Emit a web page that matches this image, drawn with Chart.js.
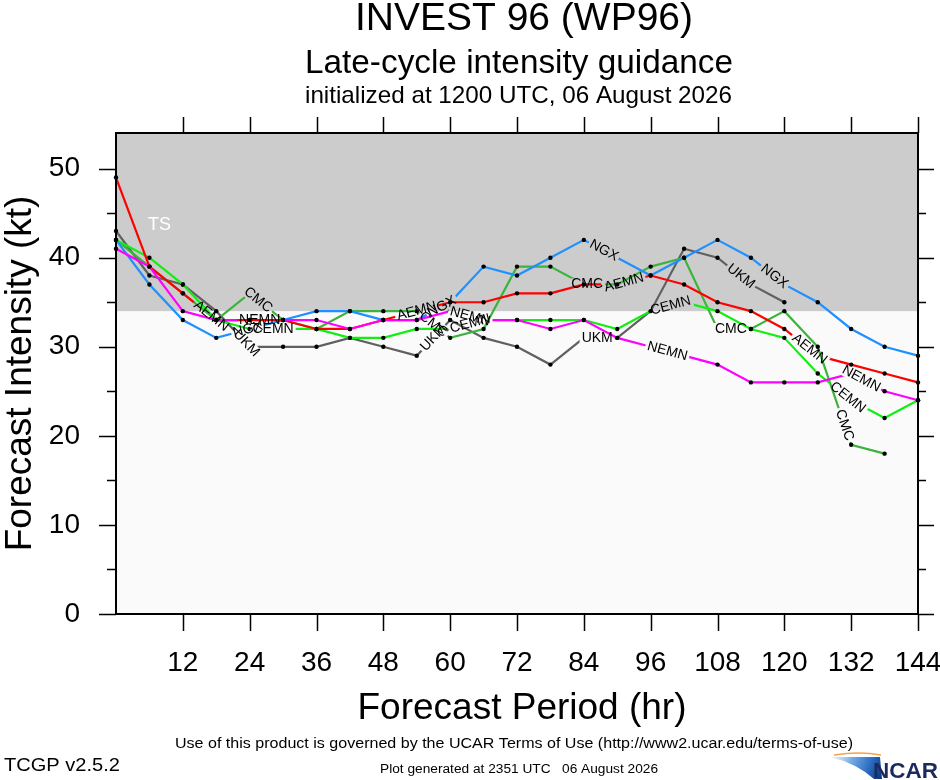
<!DOCTYPE html>
<html>
<head>
<meta charset="utf-8">
<script src="https://cdn.jsdelivr.net/npm/chart.js@4.4.1/dist/chart.umd.min.js"></script>
<style>
html,body{margin:0;padding:0;background:#ffffff;}
canvas{display:block;}
</style>
</head>
<body>
<canvas id="c" width="940" height="780"></canvas>
<script>
// ---------------- DATA ----------------
const hours = [0,6,12,18,24,30,36,42,48,54,60,66,72,78,84,90,96,102,108,114,120,126,132,138,144];
const AEMN = [49,39,36,33,33,33,32,32,33,34,35,35,36,36,37,37,38,37,35,34,32,29,28,27,26];
const NGX  = [42,37,33,31,32,33,34,34,33,33,35,39,38,40,42,40,38,40,42,40,37,35,32,30,29];
const UKM  = [43,38,37,34,30,30,30,31,30,29,33,31,30,28,31,31,34,41,40,37,35];
const CMC  = [42,39,36,33,36,33,32,34,34,34,31,32,39,39,37,37,39,40,32,32,34,30,19,18];
const CEMN = [42,40,37,33,32,32,32,31,31,32,32,33,33,33,33,32,34,35,34,32,31,27,24,22,24];
const NEMN = [41,39,34,33,33,33,33,32,33,33,34,33,33,32,33,31,30,29,28,26,26,26,27,25,24];
const xTickValues = [12,24,36,48,60,72,84,96,108,120,132,144];
const yTickValues = [0,10,20,30,40,50];
const yMinorValues = [5,15,25,35,45];
const tsThreshold = 34;

// ---------------- STYLE ----------------
const FONT = "'Liberation Sans', Arial, Helvetica, sans-serif";
const series = [
  {name:'NEMN', values:NEMN, color:'#ff00ff', labels:[4.3,10.6,16.5,22.3]},
  {name:'AEMN', values:AEMN, color:'#ff0000', labels:[2.85,9.0,15.2,20.75]},
  {name:'NGX',  values:NGX,  color:'#1e90ff', labels:[3.95,9.75,14.6,19.7]},
  {name:'CEMN', values:CEMN, color:'#11ee11', labels:[4.7,10.6,16.6,21.9]},
  {name:'CMC',  values:CMC,  color:'#3cb43c', labels:[4.25,9.5,14.1,18.4,21.8]},
  {name:'UKM',  values:UKM,  color:'#606060', labels:[3.9,9.5,14.4,18.7]}
];
const LABEL_FONT = "14px 'Liberation Sans', Arial, Helvetica, sans-serif";

Chart.defaults.font.family = FONT;

function toXY(vals){ return vals.map((v,i)=>({x:hours[i], y:v})); }

function computeLabels(chart, idx){
  const meta = chart.getDatasetMeta(idx);
  const s = series[idx];
  const ctx = chart.ctx;
  ctx.save();
  ctx.font = LABEL_FONT;
  const out = [];
  s.labels.forEach(f=>{
    const i0 = Math.floor(f);
    const i1 = Math.min(i0+1, meta.data.length-1);
    const t = f - i0;
    const p0 = meta.data[i0], p1 = meta.data[i1];
    if(!p0 || !p1) return;
    const x = p0.x + t*(p1.x-p0.x);
    const y = p0.y + t*(p1.y-p0.y);
    const a = Math.atan2(p1.y-p0.y, p1.x-p0.x);
    const w = ctx.measureText(s.name).width;
    out.push({x,y,a,w,text:s.name});
  });
  ctx.restore();
  return out;
}

const bgPlugin = {
  id:'bg',
  beforeDatasetsDraw(chart){
    const {ctx, chartArea:a, scales:{y}} = chart;
    ctx.save();
    ctx.fillStyle = '#fafafa';
    ctx.fillRect(a.left, a.top, a.right-a.left, a.bottom-a.top);
    const yt = y.getPixelForValue(tsThreshold);
    ctx.fillStyle = '#cccccc';
    ctx.fillRect(a.left, a.top, a.right-a.left, yt-a.top);
    ctx.fillStyle = '#ffffff';
    ctx.font = "18px " + FONT;
    ctx.textAlign = 'left';
    ctx.textBaseline = 'alphabetic';
    ctx.fillText('TS', a.left+32, 230);
    ctx.restore();
  }
};

const labelPlugin = {
  id:'lineLabels',
  beforeDatasetDraw(chart, args){
    const ctx = chart.ctx;
    const labs = computeLabels(chart, args.index);
    ctx.save();
    ctx.beginPath();
    ctx.rect(0,0,chart.width,chart.height);
    labs.forEach(l=>{
      const hw = l.w/2+2, hh = 6;
      const c = Math.cos(l.a), s = Math.sin(l.a);
      const pts = [[-hw,-hh],[hw,-hh],[hw,hh],[-hw,hh]].map(([u,v])=>[l.x+u*c-v*s, l.y+u*s+v*c]);
      ctx.moveTo(pts[0][0],pts[0][1]);
      for(let k=1;k<4;k++) ctx.lineTo(pts[k][0],pts[k][1]);
      ctx.closePath();
    });
    ctx.clip('evenodd');
  },
  afterDatasetDraw(chart){
    chart.ctx.restore();
  },
  afterDatasetsDraw(chart){
    const ctx = chart.ctx;
    series.forEach((s,idx)=>{
      const labs = computeLabels(chart, idx);
      labs.forEach(l=>{
        ctx.save();
        ctx.translate(l.x, l.y);
        ctx.rotate(l.a);
        ctx.font = LABEL_FONT;
        ctx.fillStyle = '#000000';
        ctx.textAlign = 'center';
        ctx.textBaseline = 'middle';
        ctx.fillText(l.text, 0, 0);
        ctx.restore();
      });
    });
  }
};

function fitText(ctx, text, x, y, width, font, align, color){
  ctx.save();
  ctx.font = font;
  const w = ctx.measureText(text).width;
  ctx.translate(x, y);
  ctx.scale(width/w, 1);
  ctx.textAlign = align;
  ctx.textBaseline = 'alphabetic';
  ctx.fillStyle = color;
  ctx.fillText(text, 0, 0);
  ctx.restore();
}

const framePlugin = {
  id:'frame',
  afterDraw(chart){
    const {ctx, chartArea:a, scales:{x, y}} = chart;
    ctx.save();
    ctx.strokeStyle = '#000000';
    ctx.lineWidth = 1.5;
    ctx.beginPath();
    xTickValues.forEach(v=>{
      const px = Math.round(x.getPixelForValue(v))+0.5;
      ctx.moveTo(px, a.bottom); ctx.lineTo(px, a.bottom+17);
      ctx.moveTo(px, a.top); ctx.lineTo(px, a.top-16);
    });
    yTickValues.forEach(v=>{
      const py = Math.round(y.getPixelForValue(v))+0.5;
      ctx.moveTo(a.left, py); ctx.lineTo(a.left-17, py);
      ctx.moveTo(a.right, py); ctx.lineTo(a.right+16, py);
    });
    yMinorValues.forEach(v=>{
      const py = Math.round(y.getPixelForValue(v))+0.5;
      ctx.moveTo(a.left, py); ctx.lineTo(a.left-9, py);
      ctx.moveTo(a.right, py); ctx.lineTo(a.right+8, py);
    });
    ctx.stroke();
    ctx.lineWidth = 2;
    ctx.strokeRect(a.left, a.top, a.right-a.left, a.bottom-a.top);
    ctx.restore();

    // titles
    fitText(ctx, 'INVEST 96 (WP96)', 524, 30, 338, "38px "+FONT, 'center', '#000');
    fitText(ctx, 'Late-cycle intensity guidance', 519, 73, 428, "33px "+FONT, 'center', '#000');
    fitText(ctx, 'initialized at 1200 UTC, 06 August 2026', 518.5, 103, 427, "24px "+FONT, 'center', '#000');

    // axis titles
    ctx.save();
    ctx.font = "37px " + FONT;
    ctx.fillStyle = '#000';
    ctx.textAlign = 'center';
    ctx.textBaseline = 'alphabetic';
    ctx.translate(31, (a.top+a.bottom)/2);
    ctx.rotate(-Math.PI/2);
    ctx.fillText('Forecast Intensity (kt)', 0, 0);
    ctx.restore();

    ctx.save();
    ctx.font = "37px " + FONT;
    ctx.fillStyle = '#000';
    ctx.textAlign = 'center';
    ctx.textBaseline = 'alphabetic';
    ctx.fillText('Forecast Period (hr)', 522, 719);
    ctx.restore();

    // footer
    fitText(ctx, 'Use of this product is governed by the UCAR Terms of Use (http://www2.ucar.edu/terms-of-use)', 175, 748, 678, "14px "+FONT, 'left', '#000');
    fitText(ctx, 'Plot generated at 2351 UTC   06 August 2026', 380, 773, 278, "12px "+FONT, 'left', '#000');
    fitText(ctx, 'TCGP v2.5.2', 4, 771, 116, "18px "+FONT, 'left', '#000');

    // NCAR logo
    ctx.save();
    const g = ctx.createLinearGradient(832, 756, 882, 776);
    g.addColorStop(0, 'rgba(220,235,250,0.6)');
    g.addColorStop(0.35, '#79aee6');
    g.addColorStop(0.7, '#2f6fc4');
    g.addColorStop(1, '#0b3584');
    ctx.fillStyle = g;
    ctx.beginPath();
    ctx.moveTo(830, 757);
    ctx.lineTo(880, 757);
    ctx.lineTo(882, 779);
    ctx.lineTo(874, 779);
    ctx.quadraticCurveTo(856, 763, 830, 757);
    ctx.closePath();
    ctx.fill();
    ctx.strokeStyle = '#f2a44a';
    ctx.lineWidth = 1.4;
    ctx.beginPath();
    ctx.moveTo(834, 755);
    ctx.quadraticCurveTo(860, 751, 881, 755);
    ctx.stroke();
    ctx.restore();
    fitText(ctx, 'NCAR', 873, 778, 65, "bold 22px "+FONT, 'left', '#1b2a5e');
  }
};

new Chart(document.getElementById('c').getContext('2d'), {
  type:'line',
  data:{
    datasets: series.map(s=>({
      label:s.name,
      data:toXY(s.values),
      borderColor:s.color,
      backgroundColor:s.color,
      borderWidth:2.2,
      pointRadius:2.2,
      pointBackgroundColor:'#000000',
      pointBorderWidth:0,
      pointHoverRadius:0,
      tension:0,
      fill:false,
      clip:false
    }))
  },
  options:{
    responsive:false,
    animation:false,
    events:[],
    layout:{padding:{top:133, right:22, left:0, bottom:0}},
    plugins:{legend:{display:false}, tooltip:{enabled:false}},
    scales:{
      x:{
        type:'linear', min:0, max:144,
        afterBuildTicks:s=>{ s.ticks = xTickValues.map(v=>({value:v})); },
        afterFit:s=>{ s.height = 166; s.paddingLeft = 0; s.paddingRight = 0; },
        grid:{display:false, drawTicks:false},
        border:{display:false},
        ticks:{padding:35, color:'#000', maxRotation:0, autoSkip:false, font:{size:28, lineHeight:1}}
      },
      y:{
        type:'linear', min:0, max:54,
        afterBuildTicks:s=>{ s.ticks = yTickValues.map(v=>({value:v})); },
        afterFit:s=>{ s.width = 116; s.paddingTop = 0; s.paddingBottom = 0; },
        grid:{display:false, drawTicks:false},
        border:{display:false},
        ticks:{padding:36, color:'#000', autoSkip:false, font:{size:28, lineHeight:1}}
      }
    }
  },
  plugins:[bgPlugin, labelPlugin, framePlugin]
});
</script>
</body>
</html>
